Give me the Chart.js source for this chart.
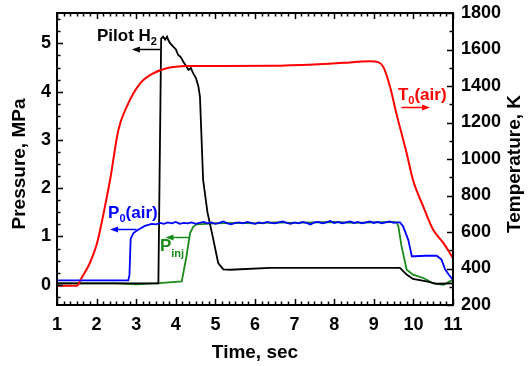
<!DOCTYPE html>
<html>
<head>
<meta charset="utf-8">
<script src="https://cdn.jsdelivr.net/npm/chart.js@4/dist/chart.umd.min.js"></script>
<style>
  html, body { margin: 0; padding: 0; background: #fff; }
  #wrap { width: 529px; height: 366px; position: relative; }
</style>
</head>
<body>
<div id="wrap"><canvas id="c"></canvas></div>
<script>
"use strict";

/* ---------- data ---------- */
// axis ticks
const xTicks = [1, 2, 3, 4, 5, 6, 7, 8, 9, 10, 11];
const pTicks = [0, 1, 2, 3, 4, 5];
const tTicks = [200, 400, 600, 800, 1000, 1200, 1400, 1600, 1800];

// T0(air), K  (right axis)
const tempTime = [1.0, 1.5, 1.62, 1.83, 2.0, 2.09, 2.21, 2.34, 2.55, 2.76, 3.10, 3.43, 3.77, 4.28, 5.0, 6.38, 7.5, 8.23, 8.9, 9.11, 9.24, 9.41, 9.57, 9.83, 9.99, 10.25, 10.5, 10.76, 11.0];
const tempK    = [305, 305, 348, 430, 530, 612, 739, 885, 1159, 1286, 1414, 1469, 1497, 1509, 1510, 1511, 1518, 1527, 1536, 1531, 1505, 1396, 1250, 1031, 885, 739, 612, 539, 457];

// Pilot H2, MPa
const h2Time = [1.0, 3.56, 3.63, 3.68, 3.73, 3.78, 3.81, 3.86, 3.94, 4.0, 4.06, 4.12, 4.19, 4.25, 4.32, 4.38, 4.44, 4.51, 4.57, 4.61, 4.69, 4.8, 4.95, 5.07, 5.2, 5.37, 6.38, 9.66, 9.83, 9.99, 10.33, 10.59, 11.0];
const h2P    = [0.03, 0.03, 5.10, 5.14, 5.08, 5.14, 5.07, 5.0, 4.93, 4.88, 4.76, 4.72, 4.62, 4.55, 4.45, 4.49, 4.38, 4.28, 4.11, 3.9, 2.17, 1.5, 0.93, 0.45, 0.32, 0.31, 0.35, 0.35, 0.21, 0.12, 0.07, 0.02, 0.03];

// P0(air), MPa
const p0Time = [1.0, 2.80, 2.83, 2.86, 2.93, 3.05, 3.22, 3.39,
  3.5, 3.6, 3.7, 3.8, 3.9, 4.0, 4.1, 4.2, 4.3, 4.4, 4.5, 4.6, 4.7, 4.8, 4.9,
  5.0, 5.1, 5.2, 5.3, 5.4, 5.5, 5.6, 5.7, 5.8, 5.9, 6.0, 6.1, 6.2, 6.3, 6.4,
  6.5, 6.6, 6.7, 6.8, 6.9, 7.0, 7.1, 7.2, 7.3, 7.4, 7.5, 7.6, 7.7, 7.8, 7.9,
  8.0, 8.1, 8.2, 8.3, 8.4, 8.5, 8.6, 8.7, 8.8, 8.9, 9.0, 9.1, 9.2, 9.3, 9.4,
  9.5, 9.6, 9.66, 9.74, 9.87, 9.96, 10.04, 10.3, 10.59, 10.71, 10.8, 10.9, 11.0];
const p0P = [0.09, 0.09, 0.2, 0.95, 1.07, 1.14, 1.22, 1.26,
  1.25, 1.28, 1.26, 1.29, 1.27, 1.30, 1.26, 1.28, 1.27, 1.29, 1.26, 1.28, 1.30, 1.27, 1.29,
  1.26, 1.28, 1.31, 1.27, 1.25, 1.28, 1.29, 1.27, 1.30, 1.28, 1.26, 1.29, 1.27, 1.30, 1.28,
  1.27, 1.29, 1.31, 1.28, 1.26, 1.29, 1.27, 1.30, 1.28, 1.25, 1.29, 1.30, 1.27, 1.29, 1.32,
  1.28, 1.30, 1.27, 1.29, 1.31, 1.28, 1.30, 1.27, 1.29, 1.31, 1.28, 1.30, 1.27, 1.29, 1.31,
  1.28, 1.29, 1.29, 1.21, 0.93, 0.59, 0.59, 0.60, 0.60, 0.52, 0.32, 0.20, 0.10];

// P_inj, MPa
const injTime = [1.0, 2.5, 3.0, 3.5, 4.15, 4.27, 4.36, 4.44, 4.52, 5.0, 5.5, 6.0, 6.5, 7.0, 7.5, 8.0, 8.5, 9.0, 9.5, 9.58, 9.62, 9.70, 9.83, 9.99, 10.25, 10.5, 10.76, 10.92, 11.0];
const injP    = [0.03, 0.03, 0.01, 0.03, 0.07, 0.59, 1.07, 1.20, 1.25, 1.27, 1.28, 1.27, 1.29, 1.28, 1.29, 1.30, 1.28, 1.29, 1.30, 1.29, 1.21, 0.80, 0.31, 0.21, 0.14, 0.03, 0.00, 0.07, 0.10];

const toPoints = (xs, ys) => xs.map((x, i) => ({ x, y: ys[i] }));

const FONT = "'Liberation Sans', Arial, sans-serif";
const RED = "#ff0000", BLUE = "#0000ff", GREEN = "#1a8a1a", BLACK = "#000000";

/* ---------- frame, inward ticks and the curve labels ---------- */
const framePlugin = {
  id: "frame",
  afterDatasetsDraw(chart) {
    const { ctx, chartArea: a, scales } = chart;
    ctx.save();
    ctx.strokeStyle = "#000";
    ctx.lineWidth = 1.5;

    const minors = (min, max, step, majors) => {
      const out = [];
      for (let v = min; v <= max + 1e-9; v += step) {
        if (!majors.some(m => Math.abs(m - v) < 1e-6)) out.push(v);
      }
      return out;
    };

    const xMinor = minors(1, 11, 1 / 6, xTicks);
    const pMinor = minors(-0.25, 5.5, 0.25, pTicks);
    const tMinor = minors(300, 1700, 200, []);

    ctx.beginPath();
    const hTicks = (vals, len) => vals.forEach(v => {
      const px = Math.round(scales.x.getPixelForValue(v)) + 0.5;
      ctx.moveTo(px, a.bottom); ctx.lineTo(px, a.bottom - len);
      ctx.moveTo(px, a.top); ctx.lineTo(px, a.top + len);
    });
    hTicks(xTicks, 6);
    hTicks(xMinor, 3.5);
    pTicks.forEach(v => {
      const py = Math.round(scales.y.getPixelForValue(v)) + 0.5;
      ctx.moveTo(a.left, py); ctx.lineTo(a.left + 6, py);
    });
    pMinor.forEach(v => {
      const py = Math.round(scales.y.getPixelForValue(v)) + 0.5;
      ctx.moveTo(a.left, py); ctx.lineTo(a.left + 3.5, py);
    });
    tTicks.forEach(v => {
      const py = Math.round(scales.yT.getPixelForValue(v)) + 0.5;
      ctx.moveTo(a.right, py); ctx.lineTo(a.right - 6, py);
    });
    tMinor.forEach(v => {
      const py = Math.round(scales.yT.getPixelForValue(v)) + 0.5;
      ctx.moveTo(a.right, py); ctx.lineTo(a.right - 3.5, py);
    });
    ctx.stroke();

    ctx.lineWidth = 2;
    ctx.strokeRect(a.left, a.top, a.width, a.height);

    // curve labels, placed in data units (time, MPa)
    const X = v => scales.x.getPixelForValue(v);
    const Y = v => scales.y.getPixelForValue(v);

    const label = (t, p, parts, color) => {
      let cx = X(t);
      const cy = Y(p);
      ctx.fillStyle = color;
      ctx.textBaseline = "alphabetic";
      ctx.textAlign = "left";
      parts.forEach(([text, size, dy]) => {
        ctx.font = `bold ${size}px ${FONT}`;
        ctx.fillText(text, cx, cy + dy);
        cx += ctx.measureText(text).width;
      });
    };

    const arrow = (tFrom, tTo, p, color) => {
      const x1 = X(tFrom), x2 = X(tTo), y = Math.round(Y(p)) + 0.5;
      const dir = Math.sign(x2 - x1);
      ctx.strokeStyle = color;
      ctx.fillStyle = color;
      ctx.lineWidth = 1.5;
      ctx.beginPath();
      ctx.moveTo(x1, y); ctx.lineTo(x2 - dir * 5, y);
      ctx.stroke();
      ctx.beginPath();
      ctx.moveTo(x2, y);
      ctx.lineTo(x2 - dir * 8, y - 3);
      ctx.lineTo(x2 - dir * 8, y + 3);
      ctx.closePath();
      ctx.fill();
    };

    label(2.01, 5.05, [["Pilot H", 17, 0], ["2", 11, 4]], BLACK);
    arrow(3.6, 2.89, 4.88, BLACK);

    label(9.61, 3.83, [["T", 17, 0], ["0", 11, 4], ["(air)", 17, 0]], RED);
    arrow(9.70, 10.42, 3.69, RED);

    label(2.29, 1.39, [["P", 17, 0], ["0", 11, 4], ["(air)", 17, 0]], BLUE);
    arrow(3.01, 2.34, 1.16, BLUE);

    label(3.60, 0.69, [["P", 17, 0], ["inj", 11, 6]], GREEN);
    arrow(4.36, 3.74, 0.99, GREEN);

    // axis titles, both read bottom-to-top
    const vTitle = (text, x) => {
      ctx.save();
      ctx.translate(x, (a.top + a.bottom) / 2 + 5);
      ctx.rotate(-Math.PI / 2);
      ctx.fillStyle = "#000";
      ctx.font = `bold 19px ${FONT}`;
      ctx.textAlign = "center";
      ctx.textBaseline = "middle";
      ctx.fillText(text, 0, 0);
      ctx.restore();
    };
    vTitle("Pressure, MPa", 20);
    vTitle("Temperature, K", 515);

    ctx.restore();
  }
};

const tickFont = { family: FONT, size: 18, weight: "bold" };
const titleFont = { family: FONT, size: 19, weight: "bold" };

// fixed box sizes so the plot area sits where the original one does
const fixWidth = w => s => { s.width = w; s.paddingTop = 0; s.paddingBottom = 0; };

new Chart(document.getElementById("c"), {
  type: "line",
  data: {
    datasets: [
      { label: "P0(air)", data: toPoints(p0Time, p0P), yAxisID: "y",
        borderColor: BLUE, borderWidth: 1.8, pointRadius: 0, tension: 0 },
      { label: "T0(air)", data: toPoints(tempTime, tempK), yAxisID: "yT",
        borderColor: RED, borderWidth: 2, pointRadius: 0, cubicInterpolationMode: "monotone" },
      { label: "Pilot H2", data: toPoints(h2Time, h2P), yAxisID: "y",
        borderColor: BLACK, borderWidth: 1.8, pointRadius: 0, tension: 0 },
      { label: "Pinj", data: toPoints(injTime, injP), yAxisID: "y",
        borderColor: GREEN, borderWidth: 1.8, pointRadius: 0, tension: 0 }
    ]
  },
  options: {
    responsive: true,
    maintainAspectRatio: false,
    animation: false,
    layout: { padding: { top: 13, left: 0, right: 0, bottom: 0 } },
    plugins: { legend: { display: false }, tooltip: { enabled: false } },
    scales: {
      x: {
        type: "linear", min: 1, max: 11,
        afterBuildTicks: s => { s.ticks = xTicks.map(v => ({ value: v })); },
        afterFit: s => { s.height = 61; },
        grid: { display: false, drawTicks: false },
        border: { display: false },
        ticks: { font: tickFont, color: "#000", padding: 9, maxRotation: 0 },
        title: { display: true, text: "Time, sec", font: titleFont, color: "#000", padding: { top: 0, bottom: 2 } }
      },
      y: {
        type: "linear", position: "left", min: -0.42, max: 5.63,
        afterBuildTicks: s => { s.ticks = pTicks.map(v => ({ value: v })); },
        afterFit: fixWidth(57),
        grid: { display: false, drawTicks: false },
        border: { display: false },
        ticks: { font: tickFont, color: "#000", padding: 6 }
      },
      yT: {
        type: "linear", position: "right", min: 200, max: 1800,
        afterBuildTicks: s => { s.ticks = tTicks.map(v => ({ value: v })); },
        afterFit: fixWidth(76),
        grid: { display: false, drawTicks: false },
        border: { display: false },
        ticks: { font: tickFont, color: "#000", padding: 8, callback: v => String(v) }
      }
    }
  },
  plugins: [framePlugin]
});
</script>
</body>
</html>
